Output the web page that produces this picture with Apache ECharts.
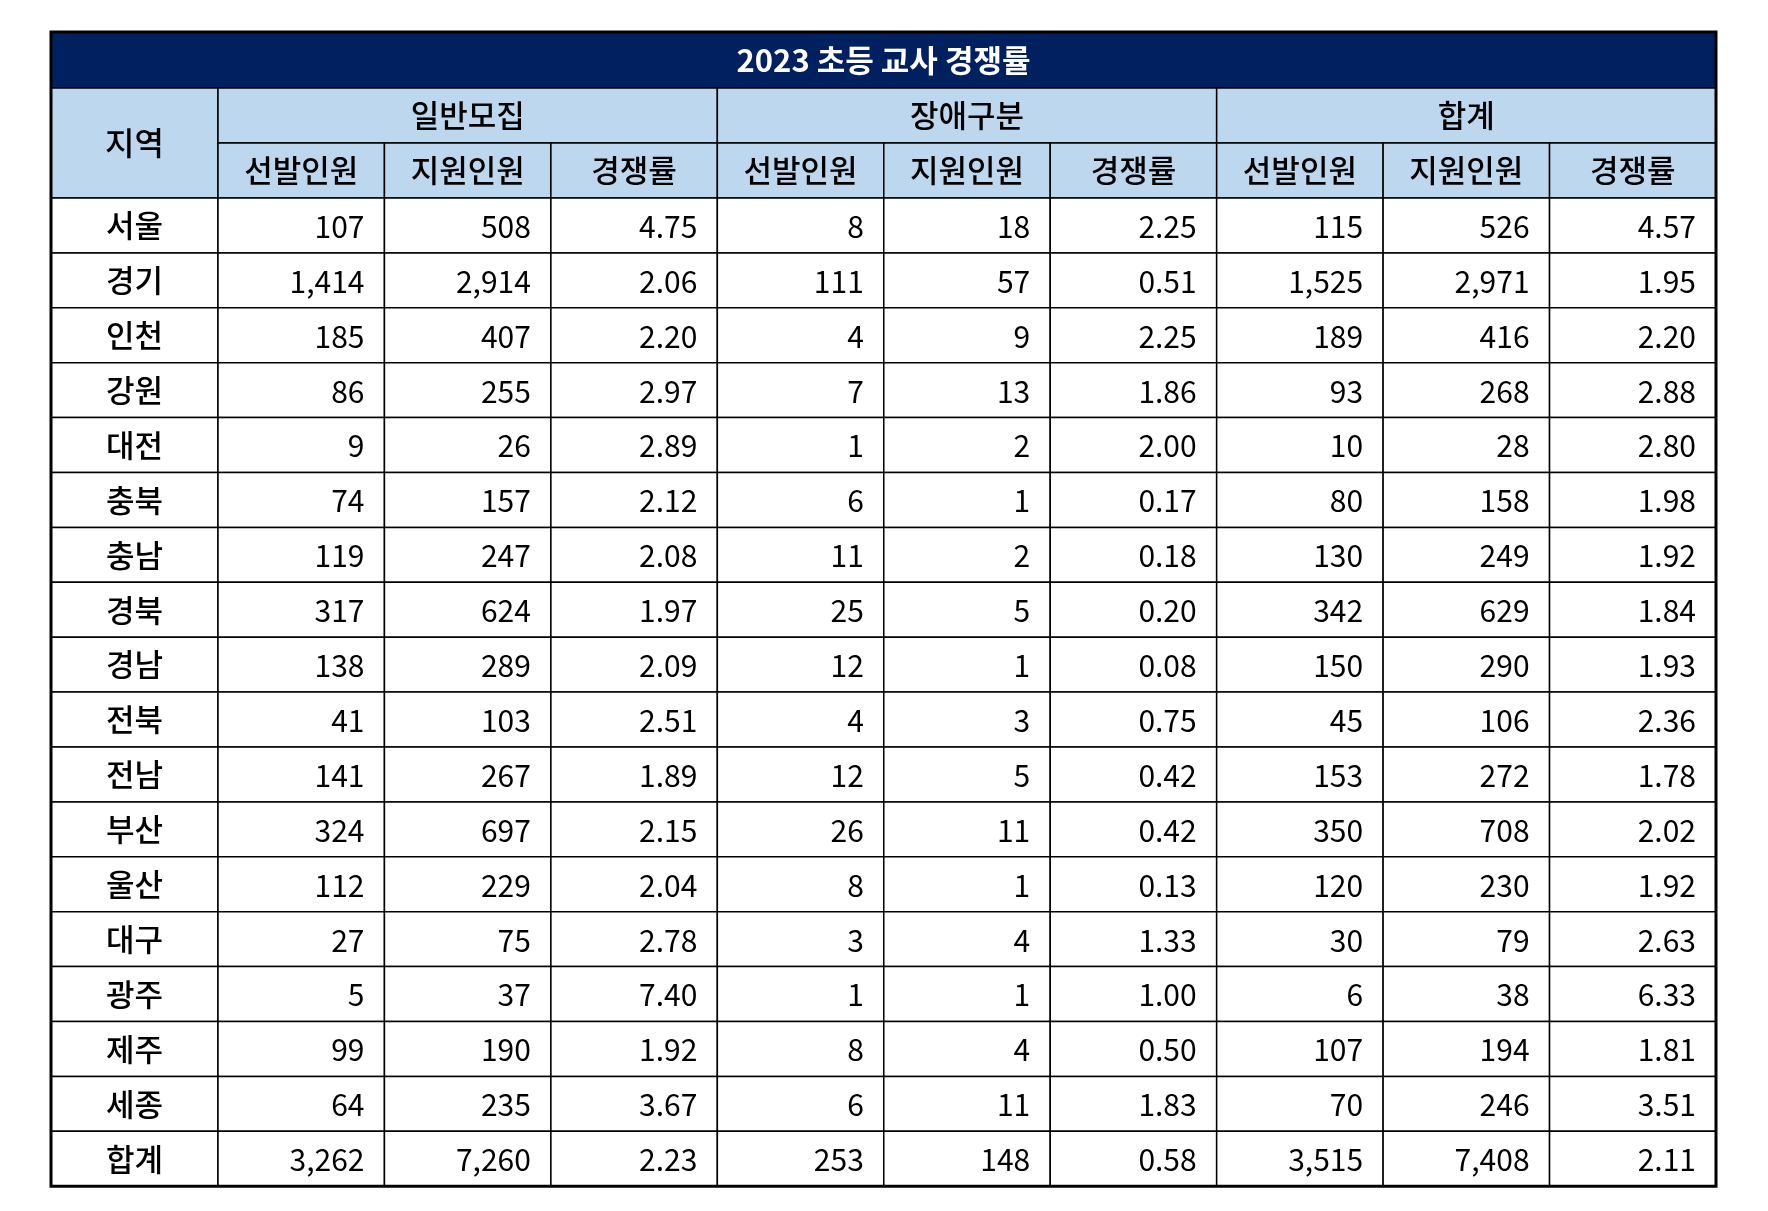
<!DOCTYPE html>
<html><head><meta charset="utf-8">
<script src="https://cdn.jsdelivr.net/npm/echarts@6/dist/echarts.min.js"></script>
<style>html,body{margin:0;padding:0;background:#fff}#c{width:1768px;height:1211px}</style>
</head><body><div id="c"></div>
<script>
const title = '2023 초등 교사 경쟁률';
const groups = ['일반모집','장애구분','합계'];
const subHeaders = ['선발인원','지원인원','경쟁률'];
const regions = ['서울','경기','인천','강원','대전','충북','충남','경북','경남','전북','전남','부산','울산','대구','광주','제주','세종','합계'];
const genSel = [107,1414,185,86,9,74,119,317,138,41,141,324,112,27,5,99,64,3262];
const genApp = [508,2914,407,255,26,157,247,624,289,103,267,697,229,75,37,190,235,7260];
const genRate = [4.75,2.06,2.20,2.97,2.89,2.12,2.08,1.97,2.09,2.51,1.89,2.15,2.04,2.78,7.40,1.92,3.67,2.23];
const disSel = [8,111,4,7,1,6,11,25,12,4,12,26,8,3,1,8,6,253];
const disApp = [18,57,9,13,2,1,2,5,1,3,5,11,1,4,1,4,11,148];
const disRate = [2.25,0.51,2.25,1.86,2.00,0.17,0.18,0.20,0.08,0.75,0.42,0.42,0.13,1.33,1.00,0.50,1.83,0.58];
const totSel = [115,1525,189,93,10,80,130,342,150,45,153,350,120,30,6,107,70,3515];
const totApp = [526,2971,416,268,28,158,249,629,290,106,272,708,230,79,38,194,246,7408];
const totRate = [4.57,1.95,2.20,2.88,2.80,1.98,1.92,1.84,1.93,2.36,1.78,2.02,1.92,2.63,6.33,1.81,3.51,2.11];

const cols = [genSel,genApp,genRate,disSel,disApp,disRate,totSel,totApp,totRate];
const L=51, R=1716, T=32, H0=56, H1=55, H2=55, RH=54.9;
const firstW=167, cw=(R-L-firstW)/9;
const font='"Noto Sans CJK KR", sans-serif';
const els=[];
const line='#000';
function rect(x,y,w,h,fill){els.push({type:'rect',shape:{x,y,width:w,height:h},style:{fill,stroke:line,lineWidth:1.5}});}
function txt(s,x,y,align,opt){els.push({type:'text',x,y,style:Object.assign({text:s,font:'30px '+font,fill:'#000',align,verticalAlign:'middle'},opt||{})});}
rect(L,T,R-L,H0,'#002060');
txt(title,(L+R)/2,T+H0/2,'center',{fill:'#fff',font:'bold 31px '+font});
const y1=T+H0, y2=y1+H1, y3=y2+H2;
rect(L,y1,firstW,H1+H2,'#BDD7EE');
txt('지역',L+firstW/2,y1+(H1+H2)/2,'center',{font:'500 32px '+font});
groups.forEach((g,i)=>{
  const x=L+firstW+i*3*cw;
  rect(x,y1,3*cw,H1,'#BDD7EE');
  txt(g,x+1.5*cw,y1+H1/2,'center',{font:'500 31px '+font});
  subHeaders.forEach((s,j)=>{
    const xx=x+j*cw;
    rect(xx,y2,cw,H2,'#BDD7EE');
    txt(s,xx+cw/2,y2+H2/2,'center',{font:'500 31px '+font});
  });
});
function fmt(v,c){return (c%3===2)?v.toFixed(2):v.toLocaleString('en-US');}
regions.forEach((r,i)=>{
  const y=y3+i*RH;
  rect(L,y,firstW,RH,'#fff');
  txt(r,L+firstW/2,y+RH/2,'center',{font:'500 31px '+font});
  cols.forEach((arr,c)=>{
    const x=L+firstW+c*cw;
    rect(x,y,cw,RH,'#fff');
    txt(fmt(arr[i],c),x+cw-20,y+RH/2+1,'right');
  });
});
els.push({type:'rect',shape:{x:L,y:T,width:R-L,height:y3+regions.length*RH-T},style:{fill:'none',stroke:'#000',lineWidth:3}});
const chart=echarts.init(document.getElementById('c'));
chart.setOption({animation:false,graphic:els});
</script></body></html>
